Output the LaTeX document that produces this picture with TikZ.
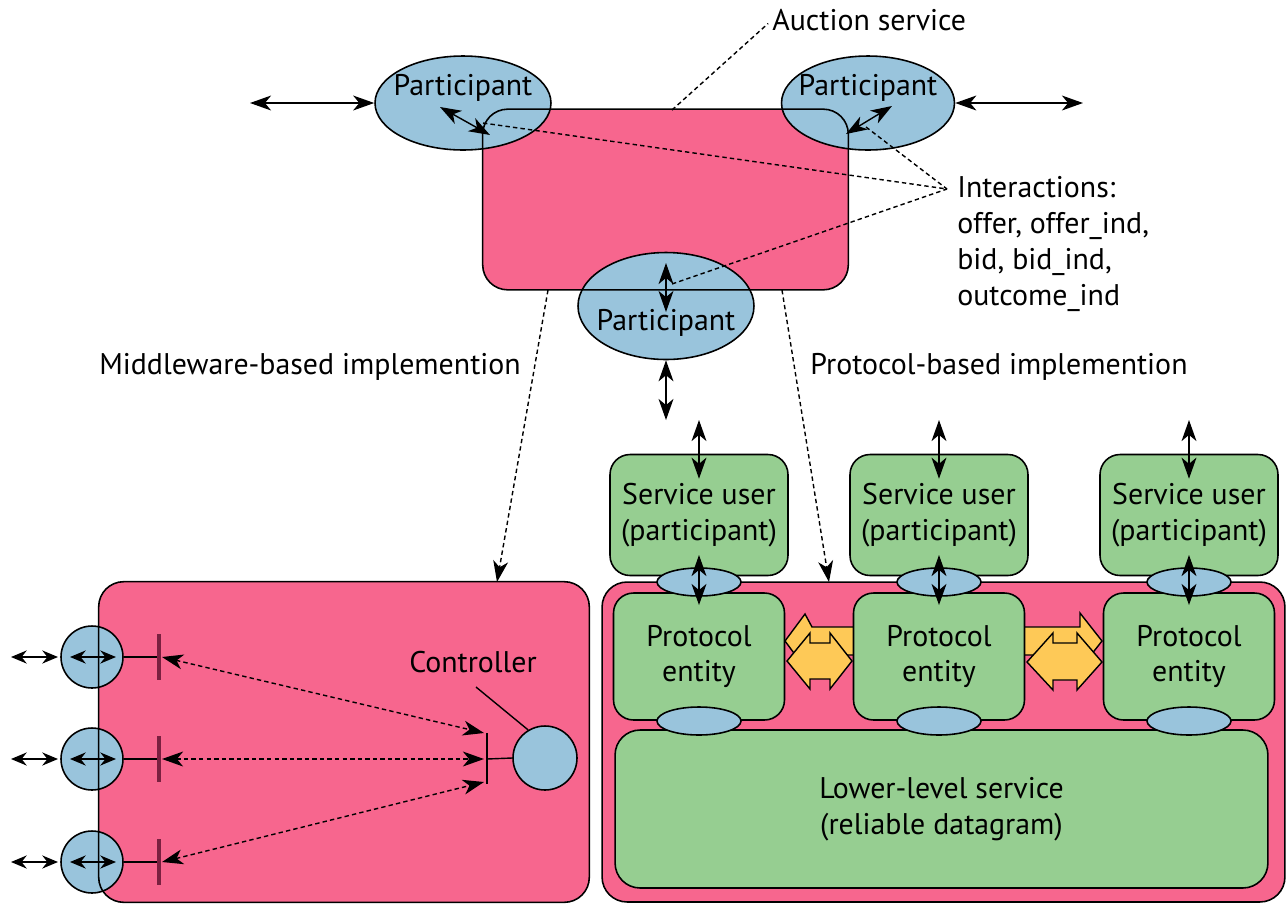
\documentclass[tikz,border=0pt]{standalone}
\usepackage{fontspec}
\setmainfont{PT Sans}
\usetikzlibrary{arrows.meta, positioning, calc, shapes.geometric}
\definecolor{auctionpink}{HTML}{F7668E}
\definecolor{partblue}{HTML}{99C4DC}
\definecolor{entitygreen}{HTML}{96CE91}
\definecolor{pduyellow}{HTML}{FEC957}
\definecolor{barred}{HTML}{7A2040}
\tikzset{
  dblarrow/.style={{Stealth[length=12pt, width=8.5pt, inset=3.5pt]}-{Stealth[length=12pt, width=8.5pt, inset=3.5pt]}, line width=0.8pt},
  portarrow/.style={{Stealth[length=9pt, width=7.5pt, inset=3pt]}-{Stealth[length=9pt, width=7.5pt, inset=3pt]}, line width=0.8pt},
  dashline/.style={line width=0.8pt, dash pattern=on 2.5pt off 1.8pt},
  dasharrow/.style={dashline, -{Stealth[length=12pt, width=8.5pt, inset=3.5pt]}},
  dashdbl/.style={dashline, {Stealth[length=12pt, width=8.5pt, inset=3.5pt]}-{Stealth[length=12pt, width=8.5pt, inset=3.5pt]}},
  partell/.style={ellipse, draw, line width=0.9pt, fill=partblue, inner sep=0pt},
  partcirc/.style={circle, draw, line width=0.9pt, fill=partblue, inner sep=0pt, minimum size=1.24cm},
  greenbox/.style={draw, line width=0.9pt, fill=entitygreen, rounded corners=0.4cm, align=center, inner sep=0pt},
  pinkfill/.style={fill=auctionpink, rounded corners=0.5cm, inner sep=0pt},
  pinkbox/.style={pinkfill, draw, line width=0.9pt},
  pdu/.style={fill=pduyellow, draw, line width=0.8pt},
  portbar/.style={draw=barred, line width=2pt}
}

\begin{document}
\begin{tikzpicture}[x=0.02cm, y=-0.02cm, font=\fontsize{17}{20.4}\selectfont]
    \useasboundingbox (0,0) rectangle (1286,904);

    % Auction service with its three participants
    \node[pinkfill, minimum width=7.3cm, minimum height=3.6cm] (auction) at (665.5,199.5) {};
    \node[partell, minimum width=3.52cm, minimum height=1.88cm] (pl) at (463,103) {};
    \node[partell, minimum width=3.46cm, minimum height=1.88cm] (pr) at (868,103) {};
    \node[partell, minimum width=3.52cm, minimum height=2.14cm] (pb) at (666,306) {};
    \draw[line width=0.9pt, rounded corners=0.5cm] (auction.south west) rectangle (auction.north east);
    \node (pltext) at (463,88) {Participant};
    \node (prtext) at (868,88) {Participant};
    \node (pbtext) at (666,323) {Participant};

    % Interactions at the service boundary
    \coordinate (plin) at (440,107);  \coordinate (plrim) at (490,135);
    \coordinate (prin) at (892,106);  \coordinate (prrim) at (846,134);
    \coordinate (pbin) at (666,263);  \coordinate (pbrim) at (666,312);
    \draw[dblarrow] (plin) -- (plrim);
    \draw[dblarrow] (prrim) -- (prin);
    \draw[dblarrow] (pbin) -- (pbrim);

    \node[anchor=west, align=left, inner sep=0pt] (interactions) at (957,244)
        {Interactions:\\offer, offer\_ind,\\bid, bid\_ind,\\outcome\_ind};
    \coordinate (hub) at (947,189);
    \coordinate (plmark) at (483,123);
    \coordinate (prmark) at (866,127);
    \coordinate (pbmark) at (672,284);
    \draw[dashline] (plmark) -- (hub);
    \draw[dashline] (prmark) -- (hub);
    \draw[dashline] (pbmark) -- (hub);

    % Outside world
    \coordinate (plout) at (250,103);
    \coordinate (prout) at (1083,103);
    \coordinate (pbout) at (666,420);
    \draw[dblarrow] (plout) -- (pl.west);
    \draw[dblarrow] (pr.east) -- (prout);
    \draw[dblarrow] (pb.south) -- (pbout);

    \node[anchor=west, inner sep=0pt] (auctionlabel) at (772,20) {Auction service};
    \coordinate (auctionmark) at (672,110);
    \draw[dashline, shorten >=3pt] (auctionmark) -- (auctionlabel.west);

    % Two ways of implementing it
    \node (mwlabel) at (310,367) {Middleware-based implemention};
    \node (prlabel) at (999,367) {Protocol-based implemention};
    \coordinate (mwstart) at (548,290);  \coordinate (mwend) at (497,582);
    \coordinate (prstart) at (782,290);  \coordinate (prend) at (829,582);
    \draw[dasharrow] (mwstart) -- (mwend);
    \draw[dasharrow] (prstart) -- (prend);

    % Middleware: ports and controller
    \node[pinkfill, minimum width=9.8cm, minimum height=6.4cm] (middleware) at (344,742) {};
    \foreach \y/\n in {657/1, 759/2, 862/3} {
        \node[partcirc] (port\n) at (92,\y) {};
    }
    \draw[line width=0.9pt, rounded corners=0.5cm] (middleware.south west) rectangle (middleware.north east);

    \node[partcirc, minimum size=1.28cm] (ctrl) at (545,758) {};
    \node (ctrllabel) at (473,662) {Controller};
    \draw[line width=0.8pt] (ctrllabel.south) ++(3,8) -- (ctrl.121);
    \coordinate (ctrlbar) at (487,759);
    \draw[line width=0.8pt] (ctrlbar) -- (ctrl.west);
    \draw[line width=1.2pt] (ctrlbar) ++(0,-26) -- ++(0,51);

    \foreach \y/\n/\e in {657/1/733, 759/2/759, 862/3/782} {
        \coordinate (out\n) at (11,\y);
        \coordinate (rim\n) at (58,\y);
        \coordinate (in\n) at (70,\y);
        \coordinate (inr\n) at (116,\y);
        \coordinate (bar\n) at (159,\y);
        \coordinate (ctrlend\n) at (484,\e);
        \draw[portarrow] (out\n) -- (rim\n);
        \draw[portarrow] (in\n) -- (inr\n);
        \draw[line width=0.8pt] (port\n.east) -- (bar\n);
        \draw[portbar] (bar\n) ++(0,-23) -- ++(0,46);
        \draw[dashdbl] ($(bar\n)+(3,0)$) -- (ctrlend\n);
    }

    % Protocol: users, entities, lower-level service
    \node[pinkbox, minimum width=13.66cm, minimum height=6.4cm] (protocol) at (943.5,742) {};

    % PDUs exchanged between entities
    \filldraw[pdu] (870,627) -- (812,627) -- (805,614) -- (785,641) -- (805,668) -- (812,655) -- (870,655) -- cycle;
    \filldraw[pdu] (787,661) -- (810,633) -- (810,643) -- (830,643) -- (830,633) -- (852,661)
        -- (830,689) -- (830,679) -- (810,679) -- (810,689) -- cycle;
    \filldraw[pdu] (1000,627) -- (1080,627) -- (1080,613) -- (1102,641) -- (1080,669) -- (1080,655) -- (1000,655) -- cycle;
    \filldraw[pdu] (1027,662) -- (1053,633) -- (1053,643) -- (1077,643) -- (1077,633) -- (1102,662)
        -- (1077,690) -- (1077,680) -- (1053,680) -- (1053,690) -- cycle;

    \node[greenbox, rounded corners=0.5cm, minimum width=13.06cm, minimum height=3.16cm] (lower) at (941.5,809)
        {Lower-level service\\(reliable datagram)};

    \foreach \x/\n in {699/1, 939/2, 1189/3} {
        \node[greenbox, minimum width=3.56cm, minimum height=2.42cm] (user\n) at (\x,515) {Service user\\(participant)};
        \node[greenbox, minimum width=3.42cm, minimum height=2.54cm] (entity\n) at (\x,656.5) {Protocol\\entity};
        \node[partell, minimum width=1.68cm, minimum height=0.56cm] (sapup\n) at (\x,582) {};
        \node[partell, minimum width=1.68cm, minimum height=0.56cm] (saplow\n) at (\x,721) {};
        \coordinate (userout\n) at (\x,420);
        \draw[dblarrow] (userout\n) -- ($(user\n.north)+(0,25)$);
        \draw[dblarrow] ($(sapup\n)+(0,-27)$) -- ($(sapup\n)+(0,23)$);
    }
\end{tikzpicture}
\end{document}
